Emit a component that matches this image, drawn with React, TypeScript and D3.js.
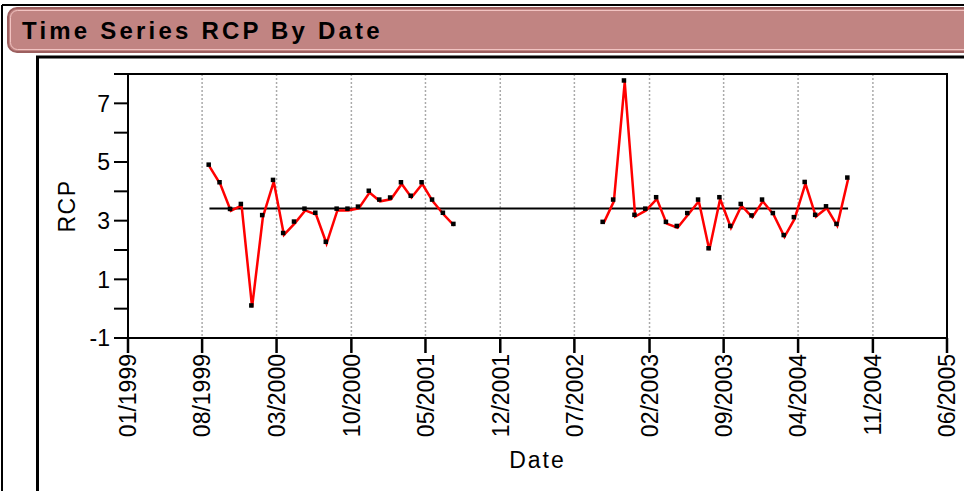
import React from 'react'
import * as d3 from 'd3'

const title = 'Time Series RCP By Date'

// first run of monthly readings
const dates1 = [
  '1999-08-22', '1999-09-22', '1999-10-22', '1999-11-22', '1999-12-22', '2000-01-22',
  '2000-02-22', '2000-03-22', '2000-04-22', '2000-05-22', '2000-06-22', '2000-07-22',
  '2000-08-22', '2000-09-22', '2000-10-22', '2000-11-22', '2000-12-22', '2001-01-22',
  '2001-02-22', '2001-03-22', '2001-04-22', '2001-05-22', '2001-06-22', '2001-07-22',
]
const rcp1 = [
  4.85, 4.25, 3.34, 3.51, 0.05, 3.13, 4.33, 2.52, 2.91, 3.35, 3.21, 2.22,
  3.35, 3.35, 3.42, 3.96, 3.66, 3.73, 4.25, 3.79, 4.25, 3.66, 3.21, 2.83,
]

// second run after the gap
const dates2 = [
  '2002-09-22', '2002-10-22', '2002-11-22', '2002-12-22', '2003-01-22', '2003-02-22',
  '2003-03-22', '2003-04-22', '2003-05-22', '2003-06-22', '2003-07-22', '2003-08-22',
  '2003-09-22', '2003-10-22', '2003-11-22', '2003-12-22', '2004-01-22', '2004-02-22',
  '2004-03-22', '2004-04-22', '2004-05-22', '2004-06-22', '2004-07-22', '2004-08-22',
]
const rcp2 = [
  2.9, 3.66, 7.72, 3.14, 3.35, 3.74, 2.9, 2.76, 3.2, 3.66, 2.0, 3.74,
  2.76, 3.51, 3.12, 3.66, 3.2, 2.45, 3.06, 4.26, 3.14, 3.43, 2.83, 4.41,
]

const xTicks = [
  '1999-01', '1999-08', '2000-03', '2000-10', '2001-05', '2001-12',
  '2002-07', '2003-02', '2003-09', '2004-04', '2004-11', '2005-06',
]
const yTicks = [-1, 0, 1, 2, 3, 4, 5, 6, 7, 8]
const yLabels = [-1, 1, 3, 5, 7]

const W = 964
const H = 491
const margin = { top: 74, right: 17, bottom: 153, left: 128 }
const font = '"Liberation Sans", Arial, sans-serif'

const parseDay = d3.timeParse('%Y-%m-%d')
const parseMonth = d3.timeParse('%Y-%m')
const fmt = d3.timeFormat('%m/%Y')

export default function App() {
  const x = d3
    .scaleTime()
    .domain([parseMonth(xTicks[0])!, parseMonth(xTicks[xTicks.length - 1])!])
    .range([margin.left, W - margin.right])
  const y = d3.scaleLinear().domain([-1, 8]).range([H - margin.bottom, margin.top])

  const seg1 = dates1.map((d, i) => ({ date: parseDay(d)!, v: rcp1[i] }))
  const seg2 = dates2.map((d, i) => ({ date: parseDay(d)!, v: rcp2[i] }))
  const all = seg1.concat(seg2)
  const mean = d3.mean(all, (d) => d.v)!

  const line = d3
    .line<{ date: Date; v: number }>()
    .x((d) => x(d.date))
    .y((d) => y(d.v))

  const x0 = margin.left
  const x1 = W - margin.right
  const y0 = margin.top
  const y1 = H - margin.bottom

  return (
    <svg
      width={W}
      height={H}
      style={{ position: 'absolute', left: 0, top: 0, background: '#fff' }}
      fontFamily={font}
    >
      {/* outer frame */}
      <line x1={2} y1={5} x2={W} y2={5} stroke="#000" strokeWidth={2} />
      <line x1={2} y1={5} x2={2} y2={H} stroke="#000" strokeWidth={2} />

      {/* title bar */}
      <rect x={8} y={8} width={W + 20} height={44} rx={9} fill="#c18482" stroke="#9c5f5f" strokeWidth={2} />
      <rect x={10.5} y={10.5} width={W + 20} height={39} rx={7} fill="none" stroke="#f2c4c2" strokeWidth={1} />
      <text x={22} y={39} fontSize={24} fontWeight="bold" letterSpacing={3.2} fill="#000">
        {title}
      </text>

      {/* inner frame */}
      <rect x={37.5} y={57} width={W + 20} height={H} fill="none" stroke="#000" strokeWidth={3} />

      {/* grid lines */}
      {xTicks.map((t) => (
        <line
          key={'g' + t}
          x1={x(parseMonth(t)!)}
          x2={x(parseMonth(t)!)}
          y1={y0}
          y2={y1}
          stroke="#aaa"
          strokeWidth={1.5}
          strokeDasharray="2,2"
        />
      ))}

      {/* mean line */}
      <line
        x1={x(all[0].date)}
        x2={x(all[all.length - 1].date)}
        y1={y(mean)}
        y2={y(mean)}
        stroke="#000"
        strokeWidth={2}
      />

      {/* series */}
      {[seg1, seg2].map((s, i) => (
        <path key={'l' + i} d={line(s)!} fill="none" stroke="#ff0000" strokeWidth={2.5} strokeLinejoin="miter" />
      ))}
      {all.map((d, i) => (
        <rect key={'m' + i} x={x(d.date) - 3} y={y(d.v) - 4} width={4.5} height={4.5} fill="#000" />
      ))}

      {/* plot frame */}
      <rect x={x0} y={y0} width={x1 - x0} height={y1 - y0} fill="none" stroke="#000" strokeWidth={2} />

      {/* y axis */}
      {yTicks.map((t) => (
        <line key={'yt' + t} x1={x0 - 14} x2={x0} y1={y(t)} y2={y(t)} stroke="#000" strokeWidth={2} />
      ))}
      {yLabels.map((t) => (
        <text key={'yl' + t} x={x0 - 18} y={y(t)} dy="0.36em" textAnchor="end" fontSize={23} fill="#000">
          {t}
        </text>
      ))}
      <text
        transform={`translate(75,${(y0 + y1) / 2}) rotate(-90)`}
        textAnchor="middle"
        fontSize={23}
        letterSpacing={1.5}
        fill="#000"
      >
        RCP
      </text>

      {/* x axis */}
      {xTicks.map((t) => {
        const px = x(parseMonth(t)!)
        return (
          <g key={'xt' + t}>
            <line x1={px} x2={px} y1={y1} y2={y1 + 15} stroke="#000" strokeWidth={2.5} />
            <text
              transform={`translate(${px},${y1 + 16}) rotate(-90)`}
              dy="0.36em"
              textAnchor="end"
              fontSize={23}
              fill="#000"
            >
              {fmt(parseMonth(t)!)}
            </text>
          </g>
        )
      })}
      <text x={(x0 + x1) / 2} y={468} textAnchor="middle" fontSize={23} letterSpacing={2} fill="#000">
        Date
      </text>
    </svg>
  )
}
